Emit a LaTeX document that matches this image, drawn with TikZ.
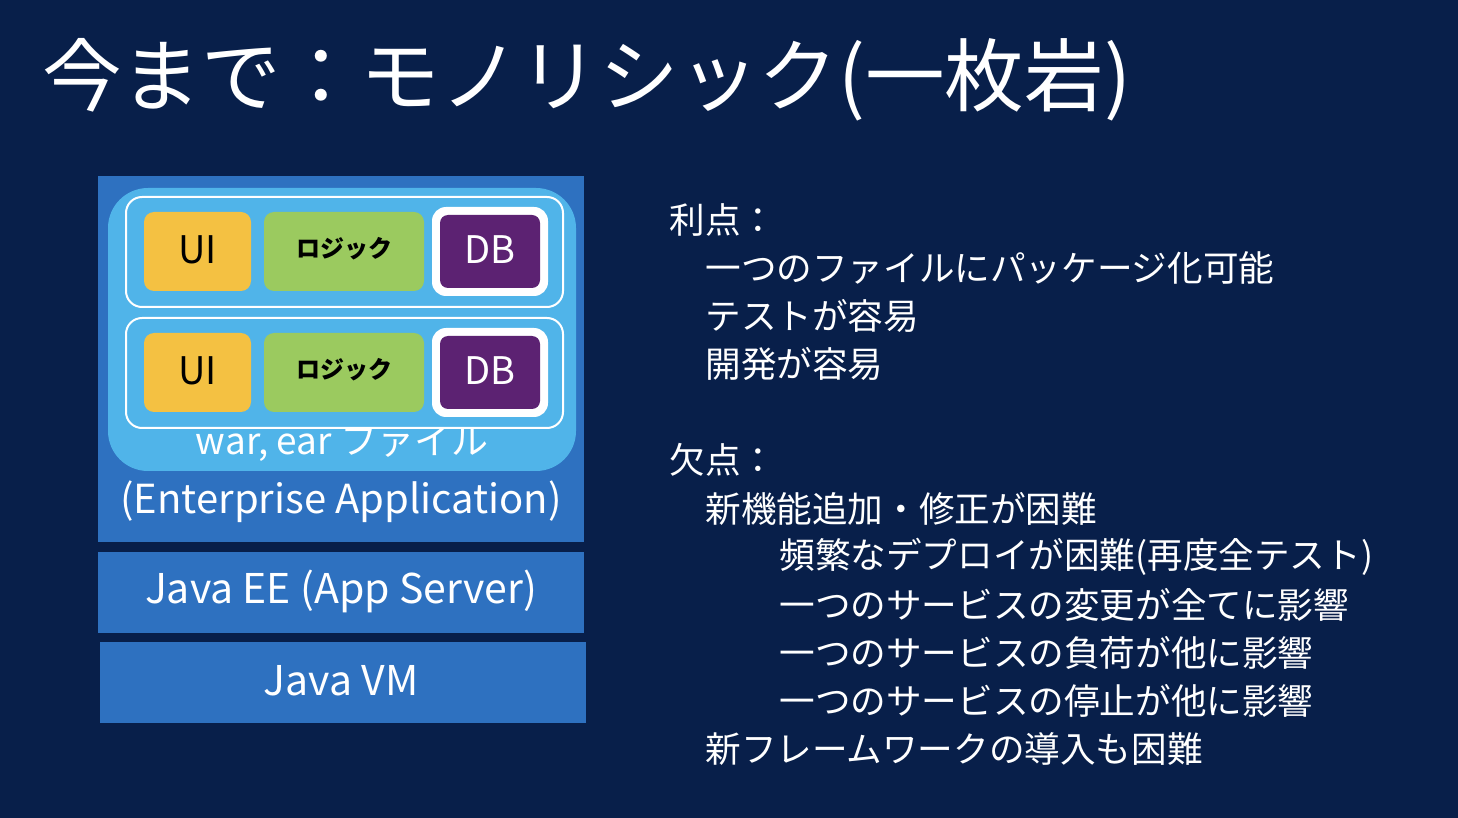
\documentclass[tikz,border=0pt]{standalone}
\usepackage{fontspec}
\setmainfont{Noto Sans CJK JP}
\definecolor{navy}{RGB}{8,31,74}
\definecolor{mblue}{RGB}{46,113,192}
\definecolor{lblue}{RGB}{80,180,233}
\definecolor{uiy}{RGB}{244,193,66}
\definecolor{lgg}{RGB}{155,202,95}
\definecolor{dbp}{RGB}{92,34,114}
\begin{document}
\begin{tikzpicture}[x=0.5pt,y=-0.5pt,
  txt/.style={text=white,anchor=west,font=\fontsize{17.8}{17.8}\selectfont,inner sep=0}]
\fill[navy] (0,0) rectangle (1458,818);
\useasboundingbox (0,0) rectangle (1458,818);
\node[text=white,anchor=west,inner sep=0,font=\fontsize{39.8}{39.8}\selectfont] (title) at (42,80) {今まで：モノリシック(一枚岩)};
% stack
\fill[mblue] (98,176) rectangle (584,542);
\fill[lblue,rounded corners=20pt] (108,188) rectangle (576,471);
\foreach \y/\n in {197/a,318/b}{
  \draw[white,line width=1pt,rounded corners=8pt] (126,\y) rectangle (563,\y+110);
  \fill[uiy,rounded corners=5pt] (144,\y+15) rectangle (251,\y+94);
  \node[font=\fontsize{19}{19}\selectfont] (ui\n) at (197.5,\y+53) {UI};
  \fill[lgg,rounded corners=5pt] (264,\y+15) rectangle (424,\y+94);
  \node[font=\bfseries\fontsize{12}{12}\selectfont] (lg\n) at (344,\y+52) {ロジック};
  \fill[white,rounded corners=7pt] (432,\y+10) rectangle (548,\y+99);
  \fill[dbp,rounded corners=4pt] (440,\y+18) rectangle (540,\y+91);
  \node[text=white,font=\fontsize{19}{19}\selectfont] (db\n) at (490,\y+53) {DB};
}
\begin{scope}
\clip (108,429) rectangle (576,480);
\node[text=white,font=\fontsize{18.5}{18.5}\selectfont] (war) at (342,444) {war, ear ファイル};
\end{scope}
\node[text=white,font=\fontsize{20}{20}\selectfont] (ent) at (341,502) {(Enterprise Application)};
\fill[mblue] (98,552) rectangle (584,633);
\node[text=white,font=\fontsize{20.5}{20.5}\selectfont] (ee) at (341,591) {Java EE (App Server)};
\fill[mblue] (100,642) rectangle (586,723);
\node[text=white,font=\fontsize{20.5}{20.5}\selectfont] (vm) at (341,681) {Java VM};
% right text
\node[txt] (p0) at (669,220) {利点：};
\node[txt] (p1) at (705,268) {一つのファイルにパッケージ化可能};
\node[txt] (p2) at (705,316) {テストが容易};
\node[txt] (p3) at (705,364) {開発が容易};
\node[txt] (d0) at (669,460) {欠点：};
\node[txt] (d1) at (705,509) {新機能追加・修正が困難};
\node[txt] (d2) at (779,557) {頻繁なデプロイが困難(再度全テスト)};
\node[txt] (d3) at (779,605) {一つのサービスの変更が全てに影響};
\node[txt] (d4) at (779,653) {一つのサービスの負荷が他に影響};
\node[txt] (d5) at (779,701) {一つのサービスの停止が他に影響};
\node[txt] (d6) at (705,749) {新フレームワークの導入も困難};
\end{tikzpicture}
\end{document}
